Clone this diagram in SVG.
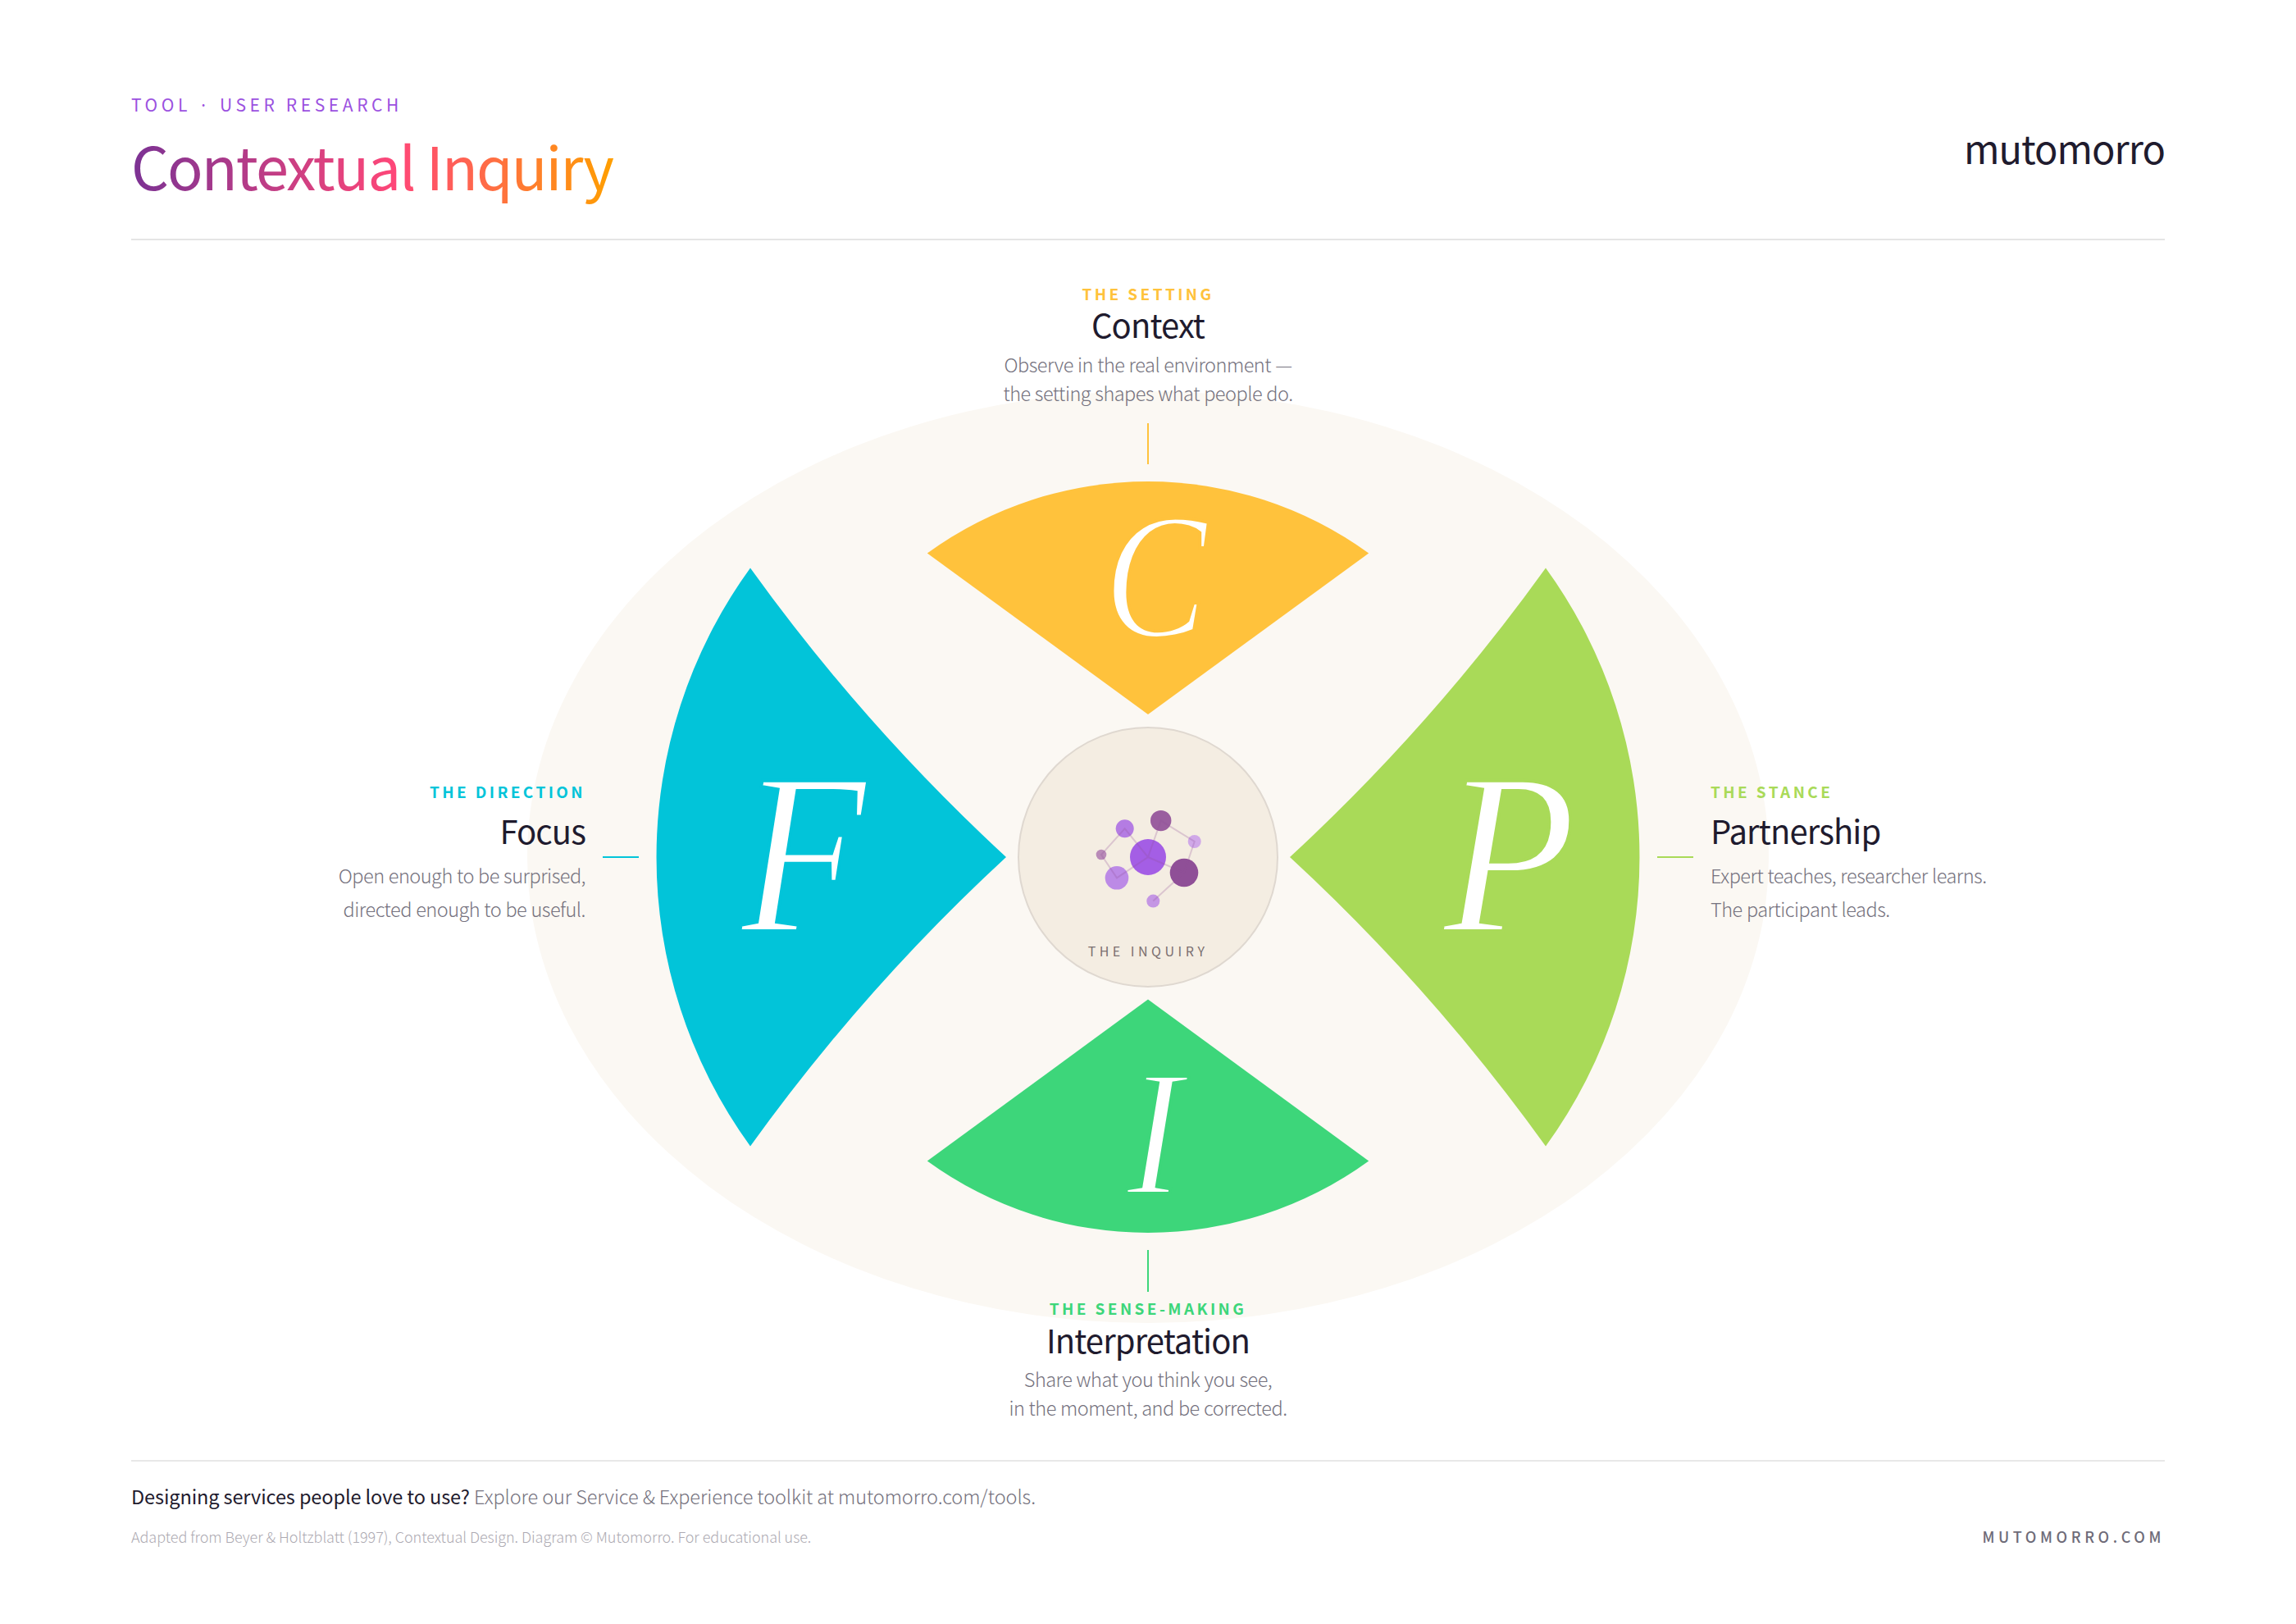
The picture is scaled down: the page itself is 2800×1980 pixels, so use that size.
<svg xmlns="http://www.w3.org/2000/svg" width="2800" height="1980" viewBox="0 0 2800 1980">
<defs>
<linearGradient id="tg" gradientUnits="userSpaceOnUse" x1="160" y1="0" x2="748" y2="0">
<stop offset="0" stop-color="#7B3294"/><stop offset="0.55" stop-color="#FF4778"/><stop offset="1" stop-color="#FF9F00"/>
</linearGradient>
</defs>
<style>
text{font-family:"Noto Sans CJK JP","Noto Sans",sans-serif}
.eb{font-size:19px;font-weight:600;letter-spacing:3.4px}
.ti{font-size:40px;font-weight:400;fill:#1F1B2E;letter-spacing:-0.9px}
.de{font-size:23.500px;font-weight:300;fill:#75727E;letter-spacing:-0.5px;word-spacing:.5px}
.big{font-family:"Liberation Serif",serif;font-style:italic;fill:#fff;text-anchor:middle;stroke-width:4}
.ld{stroke-width:2;fill:none}
.net{stroke:#8E4E96;stroke-opacity:.25;stroke-width:2;fill:none}
.m{text-anchor:middle}.e{text-anchor:end}
</style>
<rect width="2800" height="1980" fill="#fff"/>
<ellipse cx="1400" cy="1045" rx="757" ry="568" fill="#FBF8F3"/>
<g id="header">
<text x="160" y="136" font-size="21" letter-spacing="4.6" fill="#9B51E0">TOOL · USER RESEARCH</text>
<text x="160" y="232" font-size="72" letter-spacing="-1.9" fill="url(#tg)">Contextual Inquiry</text>
<text x="2640" y="200" class="e" font-size="47" font-weight="400" letter-spacing="-1" fill="#1F1B2E">mutomorro</text>
<rect x="160" y="291" width="2480" height="2" fill="#E5E5E5"/>
</g>
<g id="connectors">
<path class="ld" stroke="#FFC23C" d="M1400 516V566"/>
<path class="ld" stroke="#3DD67A" d="M1400 1524V1575"/>
<path class="ld" stroke="#02C4D9" d="M735 1045H779"/>
<path class="ld" stroke="#A9DA58" d="M2021 1045H2065"/>
</g>
<g id="node-context">
<path fill="#FFC23C" d="M1400 871L1130.800 674.500A458 458 0 0 1 1669.200 674.500Z"/>
<text class="big" transform="translate(1409 776) scale(.86 1)" font-size="219" stroke="#FFC23C">C</text>
<text class="eb m" x="1400" y="366" fill="#FFC23C">THE SETTING</text>
<text class="ti m" x="1400" y="412">Context</text>
<text class="de m" x="1400" y="454">Observe in the real environment —</text>
<text class="de m" x="1400" y="489">the setting shapes what people do.</text>
</g>
<g id="node-focus">
<path fill="#02C4D9" d="M1227 1045Q1053 884.500 915 692.500A600 600 0 0 0 915 1397.500Q1053 1205.500 1227 1045Z"/>
<text class="big" transform="translate(980 1135) scale(.89 1)" font-size="280" stroke="#02C4D9">F</text>
<text class="eb e" x="714" y="973" fill="#02C4D9">THE DIRECTION</text>
<text class="ti e" x="714" y="1029">Focus</text>
<text class="de e" x="714" y="1077">Open enough to be surprised,</text>
<text class="de e" x="714" y="1118">directed enough to be useful.</text>
</g>
<g id="node-partnership">
<path fill="#A9DA58" d="M1573 1045Q1747 884.500 1885 692.500A600 600 0 0 1 1885 1397.500Q1747 1205.500 1573 1045Z"/>
<text class="big" transform="translate(1841 1135) scale(.946 1)" font-size="280" stroke="#A9DA58">P</text>
<text class="eb" x="2086" y="973" fill="#A9DA58">THE STANCE</text>
<text class="ti" x="2086" y="1029">Partnership</text>
<text class="de" x="2086" y="1077">Expert teaches, researcher learns.</text>
<text class="de" x="2086" y="1118">The participant leads.</text>
</g>
<g id="node-interpretation">
<path fill="#3DD67A" d="M1400 1218.500L1130.800 1415.500A458 458 0 0 0 1669.200 1415.500Z"/>
<text class="big" transform="translate(1408 1455) scale(.93 1)" font-size="219" stroke="#3DD67A">I</text>
<text class="eb m" x="1400" y="1603" fill="#3DD67A">THE SENSE-MAKING</text>
<text class="ti m" x="1400" y="1650">Interpretation</text>
<text class="de m" x="1400" y="1691">Share what you think you see,</text>
<text class="de m" x="1400" y="1726">in the moment, and be corrected.</text>
</g>
<g id="node-inquiry">
<circle cx="1400" cy="1045" r="158" fill="#F4EDE2" stroke="#DFD8D0" stroke-width="2"/>
<circle cx="1400" cy="1045" r="22" fill="#A45EE5"/>
<circle cx="1371.700" cy="1010.300" r="11" fill="#B47CE3"/>
<circle cx="1415.700" cy="1000.600" r="12.700" fill="#9A5E9F"/>
<circle cx="1456.700" cy="1026" r="8" fill="#D0A8E8"/>
<circle cx="1444" cy="1064" r="17.300" fill="#8F4F97"/>
<circle cx="1362" cy="1070.300" r="14.300" fill="#BC8AE6"/>
<circle cx="1343" cy="1042" r="6.300" fill="#B98BB8"/>
<circle cx="1406.300" cy="1098.600" r="8" fill="#C496E4"/>
<path class="net" d="M1400 1045L1371.700 1010.300L1343 1042L1362 1070.300L1400 1045L1415.700 1000.600L1456.700 1026L1444 1064L1400 1045M1444 1064L1406.300 1098.600"/>
<text class="m" x="1400" y="1166" font-size="16" font-weight="400" letter-spacing="4.500" fill="#7A6F70">THE INQUIRY</text>
</g>
<g id="footer">
<rect x="160" y="1780" width="2480" height="2" fill="#E8E8E8"/>
<text x="160" y="1834" font-size="23.500" font-weight="300" letter-spacing="-0.1" fill="#75727E"><tspan font-weight="400" fill="#1F1B2E">Designing services people love to use?</tspan> Explore our Service &amp; Experience toolkit at mutomorro.com/tools.</text>
<text x="160" y="1881" font-size="18" font-weight="300" letter-spacing="-0.05" fill="#ADAAB2">Adapted from Beyer &amp; Holtzblatt (1997), Contextual Design. Diagram © Mutomorro. For educational use.</text>
<text class="e" x="2640" y="1881" font-size="18" font-weight="500" letter-spacing="4.600" fill="#6E6B78">MUTOMORRO.COM</text>
</g>
</svg>
